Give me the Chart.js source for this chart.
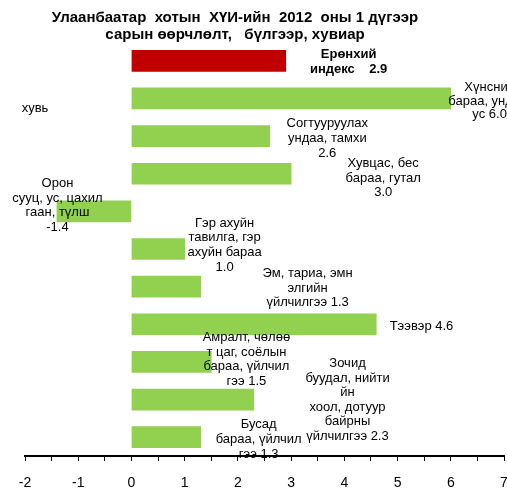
<!DOCTYPE html>
<html>
<head>
<meta charset="utf-8">
<script src="https://cdn.jsdelivr.net/npm/chart.js@4.4.0/dist/chart.umd.min.js"></script>
<style>
  html, body { margin: 0; padding: 0; background: #fff; }
  #wrap { width: 507px; height: 492px; }
</style>
</head>
<body>
<div id="wrap"><canvas id="chart" width="507" height="492"></canvas></div>
<script>
const categories = [
  'Ерөнхий индекс',
  'Хүнсний бараа, ундаа, ус',
  'Согтууруулах ундаа, тамхи',
  'Хувцас, бес бараа, гутал',
  'Орон сууц, ус, цахилгаан, түлш',
  'Гэр ахуйн тавилга, гэр ахуйн бараа',
  'Эм, тариа, эмнэлгийн үйлчилгээ',
  'Тээвэр',
  'Амралт, чөлөөт цаг, соёлын бараа, үйлчилгээ',
  'Зочид буудал, нийтийн хоол, дотуур байрны үйлчилгээ',
  'Бусад бараа, үйлчилгээ'
]
const values = [2.9, 6.0, 2.6, 3.0, -1.4, 1.0, 1.3, 4.6, 1.5, 2.3, 1.3]
const labelText = [
  ['Ерөнхий', 'индекс    2.9'],
  ['Хүнсний', 'бараа, ундаа,', 'ус 6.0'],
  ['Согтууруулах', 'ундаа, тамхи', '2.6'],
  ['Хувцас, бес', 'бараа, гутал', '3.0'],
  ['Орон', 'сууц, ус, цахил', 'гаан, түлш', '-1.4'],
  ['Гэр ахуйн', 'тавилга, гэр', 'ахуйн бараа', '1.0'],
  ['Эм, тариа, эмн', 'элгийн', 'үйлчилгээ 1.3'],
  ['Тээвэр 4.6'],
  ['Амралт, чөлөө', 'т цаг, соёлын', 'бараа, үйлчил', 'гээ 1.5'],
  ['Зочид', 'буудал, нийти', 'йн', 'хоол, дотуур', 'байрны', 'үйлчилгээ 2.3'],
  ['Бусад', 'бараа, үйлчил', 'гээ 1.3']
]
const xMin = -2
const xMax = 7
const titleLines = ['Улаанбаатар  хотын  ХҮИ-ийн  2012  оны 1 дүгээр', 'сарын өөрчлөлт,   бүлгээр, хувиар']
const unitLabel = 'хувь'

// label anchor: [x in axis units, first line offset from bar centre in px, line height]
const labelPos = [
  [4.08, -6, 15],
  [6.73, -11, 13.5],
  [3.68, -13, 15],
  [4.73, -10, 14.5],
  [-1.39, -28, 14.7],
  [1.75, -26, 14.7],
  [3.31, -13, 14.5],
  [5.45, 2, 14.5],
  [2.16, -24, 14.5],
  [4.06, -36, 14.5],
  [2.39, -13, 15]
]

const barLabels = {
  id: 'barLabels',
  afterDraw(chart) {
    const ctx = chart.ctx
    const xs = chart.scales.x
    const ys = chart.scales.y
    ctx.save()
    ctx.fillStyle = '#000'
    ctx.textAlign = 'center'
    ctx.textBaseline = 'middle'
    labelText.forEach((lines, i) => {
      const p = labelPos[i]
      const cx = xs.getPixelForValue(p[0])
      const cy = ys.getPixelForValue(i) + p[1]
      ctx.font = i == 0 ? 'bold 13px "Liberation Sans", Arial' : '13px "Liberation Sans", Arial'
      lines.forEach((t, k) => ctx.fillText(t, cx, cy + k * p[2]))
    })
    ctx.font = '13px "Liberation Sans", Arial'
    ctx.fillText(unitLabel, 35, 108)
    ctx.font = 'bold 15px "Liberation Sans", Arial'
    titleLines.forEach((t, k) => ctx.fillText(t, 235, 18 + k * 17))
    ctx.restore()
  }
}

new Chart(document.getElementById('chart'), {
  type: 'bar',
  data: {
    labels: categories,
    datasets: [{
      data: values,
      backgroundColor: values.map((v, i) => i == 0 ? '#C00000' : '#92D050'),
      barThickness: 21,
      borderWidth: 0
    }]
  },
  options: {
    indexAxis: 'y',
    responsive: false,
    animation: false,
    layout: { padding: { top: 42, left: 25, right: 3, bottom: 0 } },
    plugins: { legend: { display: false }, tooltip: { enabled: false } },
    scales: {
      x: {
        min: xMin,
        max: xMax,
        ticks: {
          stepSize: 0.5,
          autoSkip: false,
          maxRotation: 0,
          padding: 14,
          color: '#000',
          font: { family: '"Liberation Sans", Arial', size: 14 },
          callback: (v) => Number.isInteger(v) ? String(v) : ''
        },
        grid: { drawOnChartArea: false, drawTicks: true, tickLength: 5, color: '#000', lineWidth: 1 },
        border: { display: true, color: '#000', width: 2 },
        afterFit: (s) => { s.paddingLeft = 0; s.paddingRight = 0; s.height = 36 }
      },
      y: {
        display: false,
        offset: true,
        grid: { display: false }
      }
    }
  },
  plugins: [barLabels]
})
</script>
</body>
</html>
